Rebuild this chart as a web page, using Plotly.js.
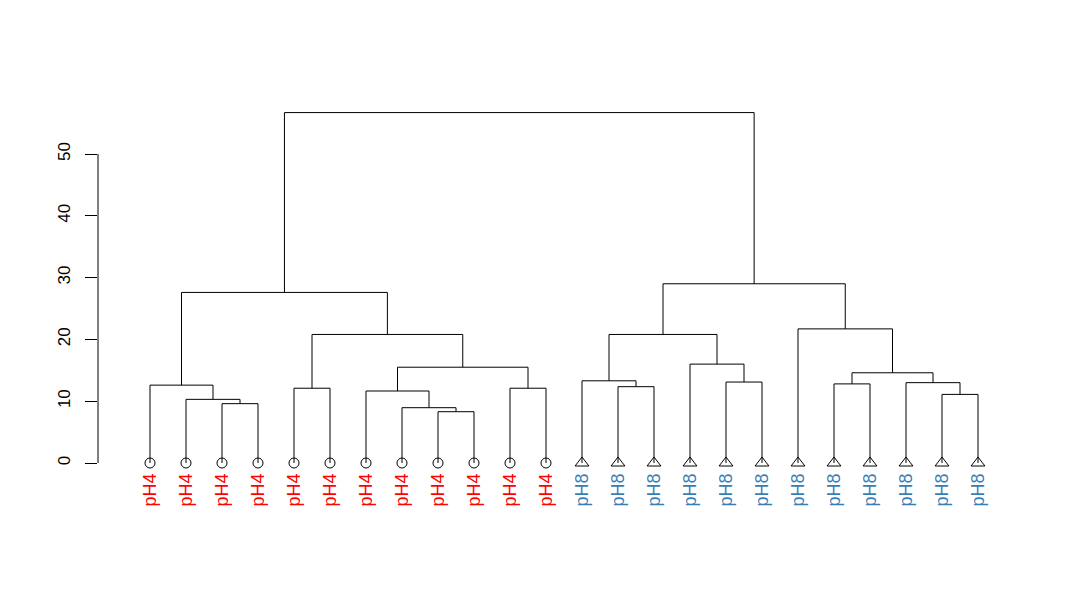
<!DOCTYPE html>
<html>
<head>
<meta charset="utf-8">
<script src="https://cdn.plot.ly/plotly-3.0.1.min.js"></script>
<style>
    html, body { margin: 0; padding: 0; background: #ffffff; }
    #dendrogram { width: 1080px; height: 600px; }
</style>
</head>
<body>
<div id="dendrogram"></div>
<script>
// leaves in display order
const leafLabels = [
    "pH4", "pH4", "pH4", "pH4", "pH4", "pH4", "pH4", "pH4", "pH4", "pH4", "pH4", "pH4",
    "pH8", "pH8", "pH8", "pH8", "pH8", "pH8", "pH8", "pH8", "pH8", "pH8", "pH8", "pH8"
];

// hclust style merges: negative = leaf number, positive = earlier merge row
const mergeLeft = [-3, -9, -8, -2, -23, -7, -5, -11, -14, -1, -20, -22, -17, -13, 11, 6, -16, 7, 14, -19, 10, 19, 21];
const mergeRight = [-4, -10, 2, 1, -24, 3, -6, -12, -15, 4, -21, 5, -18, 9, 12, 8, 13, 16, 17, 15, 18, 20, 22];
const mergeHeight = [9.6, 8.3, 8.95, 10.3, 11.1, 11.65, 12.1, 12.1, 12.35, 12.6, 12.8, 13.0, 13.1, 13.3, 14.6, 15.5, 16.0, 20.8, 20.8, 21.7, 27.6, 29.0, 56.7];

const yTickValues = [0, 10, 20, 30, 40, 50];

const groupColours = { pH4: "#ff0000", pH8: "#377eb8" };
const groupSymbols = { pH4: "circle-open", pH8: "triangle-up-open" };
const groupSizes = { pH4: 10, pH8: 12 };

const fontFamily = '"Liberation Sans", Arial, sans-serif';

function buildSegments() {
    const nodeX = [];
    const xs = [];
    const ys = [];

    function childPos(ref) {
        if (ref < 0) {
            return { x: -ref, h: 0 };
        }
        return { x: nodeX[ref - 1], h: mergeHeight[ref - 1] };
    }

    for (let i = 0; i < mergeHeight.length; i++) {
        const left = childPos(mergeLeft[i]);
        const right = childPos(mergeRight[i]);
        const h = mergeHeight[i];
        nodeX.push((left.x + right.x) / 2);
        xs.push(left.x, left.x, right.x, right.x, null);
        ys.push(left.h, h, h, right.h, null);
    }

    return { x: xs, y: ys };
}

function leafTrace(group) {
    const xs = [];
    const ys = [];
    leafLabels.forEach((label, i) => {
        if (label === group) {
            xs.push(i + 1);
            ys.push(0);
        }
    });
    return {
        x: xs,
        y: ys,
        type: "scatter",
        mode: "markers",
        cliponaxis: false,
        hoverinfo: "skip",
        marker: {
            symbol: groupSymbols[group],
            size: groupSizes[group],
            color: "#000000",
            line: { color: "#000000", width: 1 }
        }
    };
}

const segments = buildSegments();
const leafPositions = leafLabels.map((_, i) => i + 1);
const leafTickText = leafLabels.map((label) => `<span style="color:${groupColours[label]}">${label}</span>`);

const data = [
    {
        x: segments.x,
        y: segments.y,
        type: "scatter",
        mode: "lines",
        cliponaxis: false,
        hoverinfo: "skip",
        line: { color: "#000000", width: 1 }
    },
    leafTrace("pH4"),
    leafTrace("pH8")
];

const layout = {
    width: 1080,
    height: 600,
    margin: { l: 98, r: 60, t: 90, b: 137 },
    paper_bgcolor: "#ffffff",
    plot_bgcolor: "#ffffff",
    showlegend: false,
    font: { family: fontFamily, color: "#000000", size: 16 },
    xaxis: {
        range: [1 - 52 / 36, 1 + 870 / 36],
        showgrid: false,
        zeroline: false,
        showline: false,
        tickmode: "array",
        tickvals: leafPositions,
        ticktext: leafTickText,
        tickangle: -90,
        ticks: "",
        ticklabelstandoff: 6,
        tickfont: { family: fontFamily, size: 18 }
    },
    yaxis: {
        range: [0, (463 - 90) / 6.18],
        showgrid: false,
        zeroline: false,
        showline: false,
        tickmode: "array",
        tickvals: yTickValues,
        ticks: "outside",
        ticklen: 12,
        tickwidth: 1,
        tickcolor: "#000000",
        tickangle: -90,
        ticklabelstandoff: 8,
        tickfont: { family: fontFamily, size: 17 }
    },
    shapes: [
        {
            type: "line",
            xref: "paper",
            yref: "y",
            x0: 0,
            x1: 0,
            y0: yTickValues[0],
            y1: yTickValues[yTickValues.length - 1],
            line: { color: "#000000", width: 1 }
        }
    ]
};

Plotly.newPlot("dendrogram", data, layout, { staticPlot: true, displayModeBar: false });
</script>
</body>
</html>
